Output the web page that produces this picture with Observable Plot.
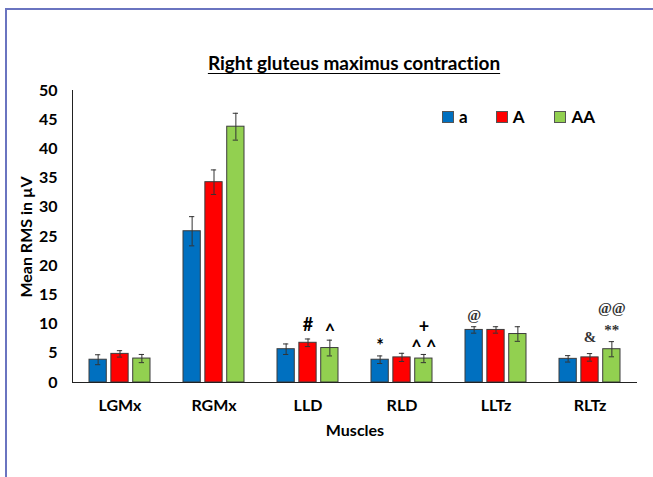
<!DOCTYPE html>
<html><head><meta charset="utf-8">
<script src="https://cdn.jsdelivr.net/npm/d3@7"></script>
<script src="https://cdn.jsdelivr.net/npm/@observablehq/plot@0.6"></script>
<style>
body{margin:0;background:#fff;}
#wrap{position:relative;width:653px;height:477px;overflow:hidden;font-family:Lato,sans-serif;font-weight:bold;color:#000;font-variant-ligatures:none;}
#border{position:absolute;left:5px;top:8px;width:700px;height:520px;border-left:2.5px solid #6a74c0;border-top:2.5px solid #6a74c0;}
#chart{position:absolute;left:0;top:0;}
#title{position:absolute;left:0;width:708px;top:51px;text-align:center;font-size:19px;text-decoration:underline;text-underline-offset:3px;}
#ylab{position:absolute;left:25px;top:237px;transform:translate(-50%,-50%) rotate(-90deg);font-size:16px;white-space:nowrap;}
#xlab{position:absolute;left:355px;top:429px;transform:translate(-50%,-50%);font-size:16px;}
#legend{position:absolute;left:442px;top:106px;display:flex;gap:0;font-size:17px;}
#legend .it{display:flex;align-items:center;}
#legend .sw{width:10px;height:10px;border:1px solid #555;margin-right:5px;}
svg text{font-variant-ligatures:none;}
</style></head>
<body>
<div id="wrap">
  <div id="border"></div>
  <div id="chart"></div>
  <div id="title">Right gluteus maximus contraction</div>
  <div id="ylab">Mean RMS in µV</div>
  <div id="xlab">Muscles</div>
  <div id="legend"></div>
</div>
<script>
const categories = ["LGMx","RGMx","LLD","RLD","LLTz","RLTz"];
const series = ["a","A","AA"];
const colors = ["#0070c0","#ff0000","#92d050"];
const valuesLowerA = [3.9, 25.9, 5.7, 3.9, 9.0, 4.05];
const errLowerA    = [0.85, 2.5, 0.9, 0.65, 0.55, 0.55];
const valuesUpperA = [4.9, 34.3, 6.8, 4.3, 9.0, 4.3];
const errUpperA    = [0.55, 2.1, 0.65, 0.7, 0.55, 0.65];
const valuesAA     = [4.1, 43.8, 5.9, 4.1, 8.3, 5.7];
const errAA        = [0.7, 2.3, 1.35, 0.7, 1.25, 1.3];
const yTicks = [0,5,10,15,20,25,30,35,40,45,50];

// significance annotations
const annCategory = ["LLD","LLD","RLD","RLD","RLD","LLTz","RLTz","RLTz","RLTz"];
const annSeries   = ["A","AA","a","AA","AA","a","A","AA","AA"];
const annY        = [9.8, 8.6, 6.2, 9.4, 5.8, 11.6, 7.7, 8.9, 12.7];
const annLabel    = ["#","^","*","+","^ ^","@","&","**","@@"];
const annSerif    = [false,false,false,false,false,true,true,true,true];

const valueSets = [valuesLowerA, valuesUpperA, valuesAA];
const errSets = [errLowerA, errUpperA, errAA];

// layout of the grouped bars inside each category band
const W = 653, H = 477, mL = 72, mR = 16, mT = 90, mB = 95;
const padInner = 0.35, padOuter = 0.175;
const step = (W - mL - mR) / (categories.length - padInner + 2 * padOuter);
const band = step * (1 - padInner);
const subPad = 0.2;
const subStep = band / (series.length - subPad);
const capInset = 6;

const marks = [
  Plot.axisY({ticks: yTicks, tickSize: 0, tickPadding: 15, label: null, fontSize: 16}),
  Plot.axisX({tickSize: 0, tickPadding: 17, label: null, fontSize: 16}),
];
series.forEach((s, j) => {
  const rows = categories.map((c, i) => {
    const v = valueSets[j][i], e = errSets[j][i];
    return {cat: c, ser: s, v, lo: v - e, hi: v + e};
  });
  const inL = j * subStep, inR = (series.length - 1 - j) * subStep;
  const off = (j - (series.length - 1) / 2) * subStep;
  marks.push(
    Plot.barY(rows, {x: "cat", y: "v", fill: "ser", stroke: "#3c3c3c", strokeWidth: 1, insetLeft: inL, insetRight: inR}),
    Plot.ruleX(rows, {x: "cat", y1: "lo", y2: "hi", dx: off, stroke: "#333", strokeWidth: 1}),
    Plot.tickY(rows, {x: "cat", y: "lo", stroke: "#333", insetLeft: inL + capInset, insetRight: inR + capInset}),
    Plot.tickY(rows, {x: "cat", y: "hi", stroke: "#333", insetLeft: inL + capInset, insetRight: inR + capInset})
  );
  const annRows = annLabel.map((l, i) => ({cat: annCategory[i], ser: annSeries[i], y: annY[i], label: l, serif: annSerif[i]}))
    .filter(d => d.ser === s);
  marks.push(
    Plot.text(annRows.filter(d => !d.serif), {x: "cat", y: "y", text: "label", dx: off, fontSize: 18, fontWeight: "bold", fontFamily: "Lato, sans-serif", fill: "#000"}),
    Plot.text(annRows.filter(d => d.serif), {x: "cat", y: "y", text: "label", dx: off, fontSize: 15, fontWeight: "bold", fontFamily: "Liberation Serif, serif", fill: "#333"})
  );
});
marks.push(
  Plot.ruleY([0], {stroke: "#222"}),
  Plot.frame({anchor: "left", stroke: "#222"})
);

const plot = Plot.plot({
  width: W, height: H,
  marginLeft: mL, marginRight: mR, marginTop: mT, marginBottom: mB,
  style: {fontFamily: "Lato, sans-serif", fontWeight: "bold", fontSize: "16px", color: "#000", background: "transparent", overflow: "visible"},
  x: {domain: categories, paddingInner: padInner, paddingOuter: padOuter, label: null},
  y: {domain: [0, 50], label: null},
  color: {domain: series, range: colors},
  marks
});
document.getElementById("chart").appendChild(plot);

const lg = document.getElementById("legend");
const gaps = [0, 28, 30];
series.forEach((s, j) => {
  const it = document.createElement("div");
  it.className = "it";
  it.style.marginLeft = gaps[j] + "px";
  it.innerHTML = `<span class="sw" style="background:${colors[j]}"></span><span>${s}</span>`;
  lg.appendChild(it);
});
</script>
</body></html>
